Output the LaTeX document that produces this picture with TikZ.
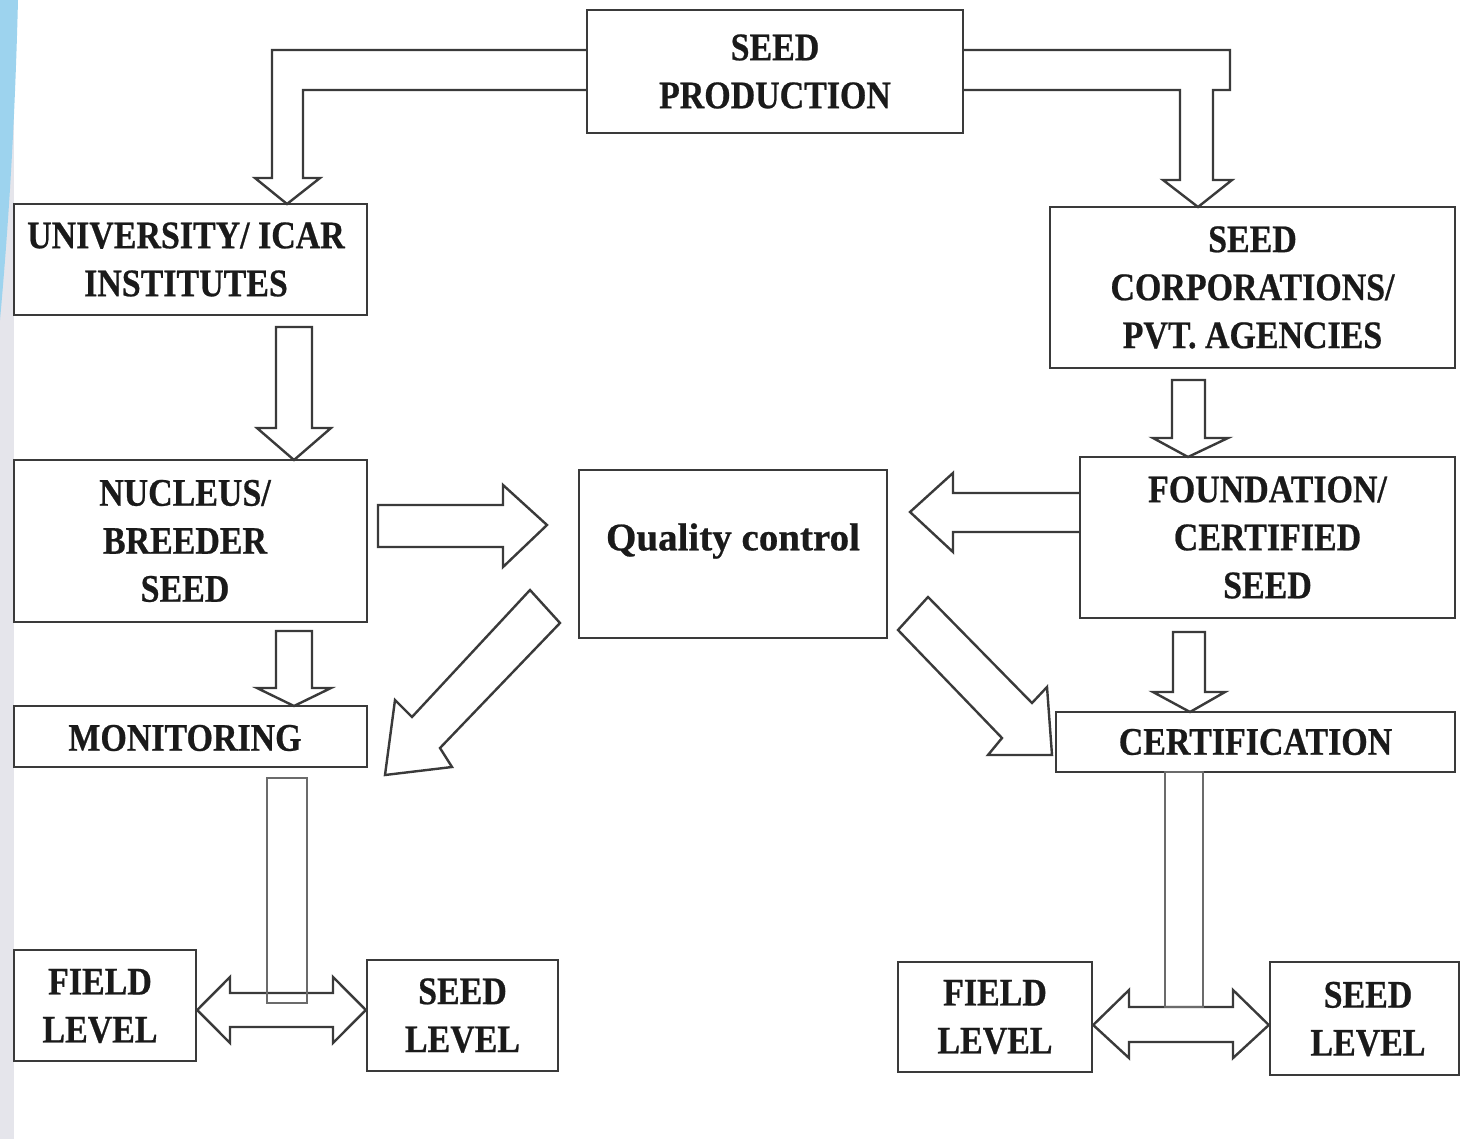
\documentclass[tikz,border=0pt]{standalone}
\usepackage{fontspec}
\setmainfont{Liberation Serif}
\newfontfamily\lbl[FakeStretch=0.87, BoldFeatures={FakeBold=0.6}]{Liberation Serif}
\newfontfamily\qcfont[BoldFeatures={FakeBold=0.6}]{Liberation Serif}
\definecolor{ln}{HTML}{3A3A3A}
\definecolor{txt}{HTML}{1A1A1A}
\definecolor{strip}{HTML}{E5E5EB}
\definecolor{swoosh}{HTML}{9DD3EE}
\begin{document}
\begin{tikzpicture}[x=0.5pt,y=-0.5pt,
  box/.style={draw=ln, line width=1.2pt, fill=white, inner sep=0pt, align=center,
    font=\lbl\bfseries\fontsize{19.5}{24}\selectfont, text=txt},
  lbltext/.style={inner sep=0pt, align=center, font=\lbl\bfseries\fontsize{19.5}{24}\selectfont, text=txt},
  barrow/.style={draw=ln, line width=1.2pt, fill=white, line join=miter},
  bar/.style={draw=ln!75, line width=1.2pt}]
\fill[white] (0,0) rectangle (1460,1139);
\useasboundingbox (0,0) rectangle (1460,1139);
\fill[strip] (0,0) rectangle (14,1139);
\fill[swoosh] (0,0) -- (18,0) .. controls (15,120) and (9,220) .. (0,320) -- cycle;

% boxes
\node[box, minimum width=188pt, minimum height=61.5pt] (sp) at (775,71.5) {SEED\\PRODUCTION};
\node[box, minimum width=176.5pt, minimum height=55.5pt] (univ) at (190.5,259.5) {};
\node[lbltext] (univt) at (186,259.5) {UNIVERSITY/ ICAR\\INSTITUTES};
\node[box, minimum width=202.5pt, minimum height=80.5pt] (corp) at (1252.5,287.5) {SEED\\CORPORATIONS/\\PVT. AGENCIES};
\node[box, minimum width=176.5pt, minimum height=81pt] (nuc) at (190.5,541) {};
\node[lbltext] (nuct) at (185,541) {NUCLEUS/\\BREEDER\\SEED};
\node[box, minimum width=154pt, minimum height=84pt] (qc) at (733,554) {};
\node[inner sep=0pt, font=\qcfont\bfseries\fontsize{19.5}{24}\selectfont, text=txt] (qct) at (733,541) {Quality control};
\node[box, minimum width=187.5pt, minimum height=80.5pt] (found) at (1267.5,537.5) {FOUNDATION/\\CERTIFIED\\SEED};
\node[box, minimum width=176.5pt, minimum height=30.5pt] (mon) at (190.5,736.5) {};
\node[lbltext] (mont) at (185,738) {MONITORING};
\node[box, minimum width=199.5pt, minimum height=30pt] (cert) at (1255.5,742) {CERTIFICATION};
\node[box, minimum width=91pt, minimum height=55.5pt] (fl1) at (105,1005.5) {};
\node[lbltext] (fl1t) at (100,1006) {FIELD\\LEVEL};
\node[box, minimum width=95.5pt, minimum height=55.5pt] (sl1) at (462.5,1015.5) {SEED\\LEVEL};
\node[box, minimum width=97pt, minimum height=55pt] (fl2) at (995,1017) {FIELD\\LEVEL};
\node[box, minimum width=94.5pt, minimum height=56.5pt] (sl2) at (1364.5,1018.5) {};
\node[lbltext] (sl2t) at (1368,1019) {SEED\\LEVEL};

% elbow arrows from SEED PRODUCTION
\draw[barrow] (sp.west |- 0,50) -- (272,50) -- (272,178) -- (255,178) -- (287,204)
  -- (320,178) -- (303,178) -- (303,90) -- (sp.west |- 0,90);
\draw[barrow] (sp.east |- 0,50) -- (1230,50) -- (1230,90) -- (1213,90) -- (1213,180)
  -- (1232,180) -- (1198,207) -- (1163,180) -- (1180,180) -- (1180,90) -- (sp.east |- 0,90);

% left column
\draw[barrow] (276,327) -- (312,327) -- (312,428) -- (331,428) -- (294,460) -- (257,428) -- (276,428) -- cycle;
\draw[barrow] (276,631) -- (312,631) -- (312,688) -- (331,688) -- (294,706) -- (257,688) -- (276,688) -- cycle;

% right column
\draw[barrow] (1172,380) -- (1205,380) -- (1205,438) -- (1228,438) -- (1188,457) -- (1153,438) -- (1172,438) -- cycle;
\draw[barrow] (1173,632) -- (1205,632) -- (1205,692) -- (1225,692) -- (1190,712) -- (1153,692) -- (1173,692) -- cycle;

% to / from quality control
\draw[barrow] (378,505) -- (503,505) -- (503,485) -- (547,525) -- (503,567) -- (503,547) -- (378,547) -- cycle;
\draw[barrow] (found.west |- 0,493) -- (953,493) -- (953,473) -- (910,512) -- (953,552) -- (953,532) -- (found.west |- 0,532);
\draw[barrow] (530,590) -- (560,623) -- (440,748) -- (452,767) -- (385,775) -- (395,700) -- (412,717) -- cycle;
\draw[barrow] (928,597) -- (1032,703) -- (1047,687) -- (1052,755) -- (988,755) -- (1002,738) -- (898,630) -- cycle;

% bottom left
\draw[barrow] (fl1.east |- 0,1010) -- (230,977) -- (230,993) -- (333,993) -- (333,977) -- (sl1.west |- 0,1010)
  -- (333,1043) -- (333,1027) -- (230,1027) -- (230,1043) -- cycle;
\draw[bar] (267,778) rectangle (307,1003);

% bottom right
\draw[barrow] (fl2.east |- 0,1025) -- (1129,990) -- (1129,1007) -- (1233,1007) -- (1233,990) -- (sl2.west |- 0,1025)
  -- (1233,1058) -- (1233,1042) -- (1129,1042) -- (1129,1058) -- cycle;
\draw[bar] (1165,772) rectangle (1203,1007);
\end{tikzpicture}
\end{document}
